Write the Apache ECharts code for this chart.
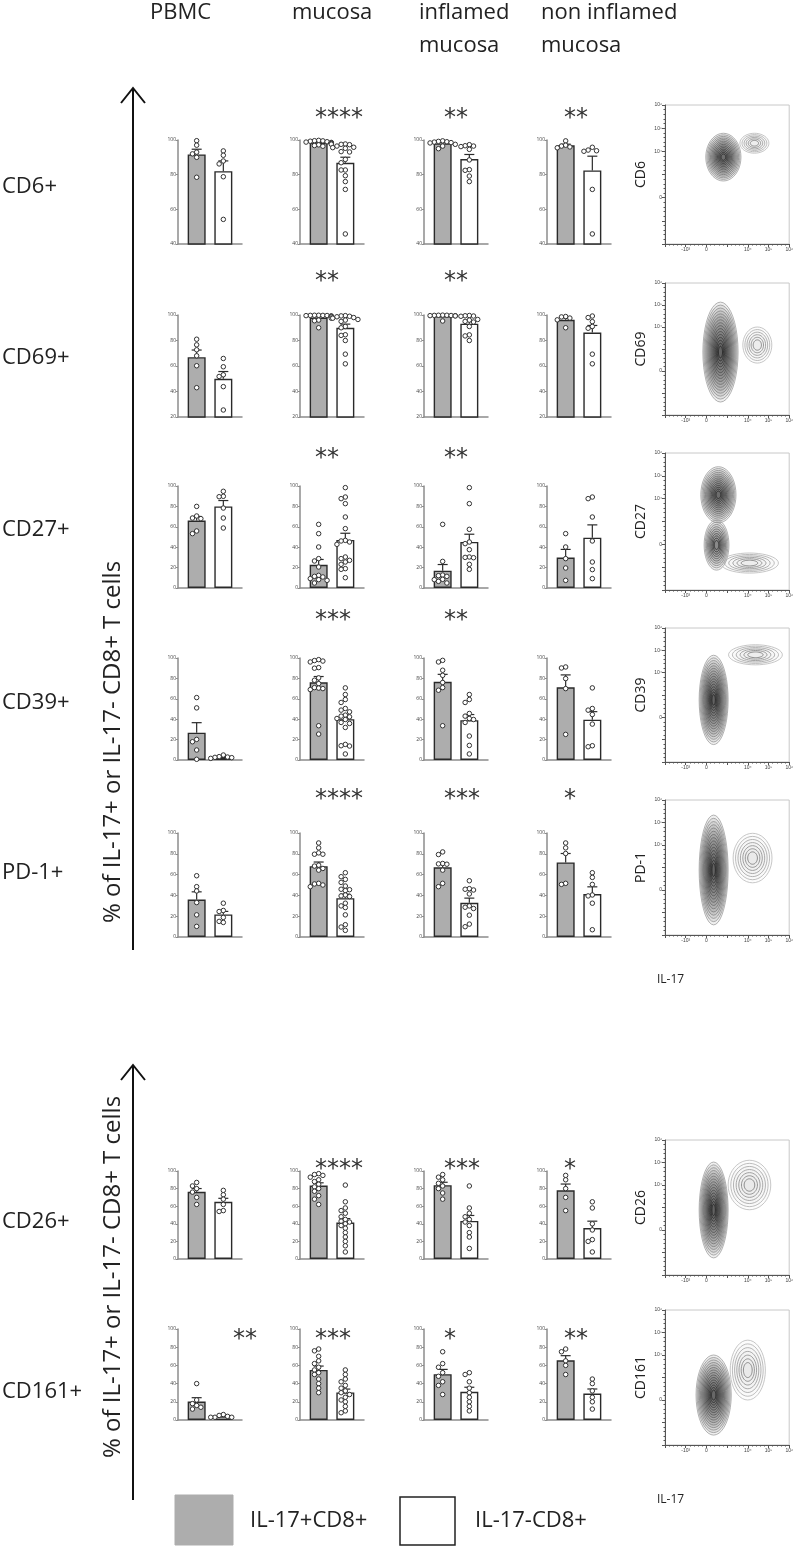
<!DOCTYPE html>
<html>
<head>
<meta charset="utf-8">
<script src="https://cdn.jsdelivr.net/npm/echarts@6/dist/echarts.min.js"></script>
<style>
  html, body { margin: 0; padding: 0; background: #fff; }
  #main { width: 796px; height: 1563px; }
</style>
</head>
<body>
<div id="main"></div>
<script>
// columns and markers
var columns = ['PBMC', 'mucosa', 'inflamed mucosa', 'non inflamed mucosa'];
var markers = ['CD6+', 'CD69+', 'CD27+', 'CD39+', 'PD-1+', 'CD26+', 'CD161+'];
var flowNames = ['CD6', 'CD69', 'CD27', 'CD39', 'PD-1', 'CD26', 'CD161'];
var yMins = [40, 20, 0, 0, 0, 0, 0];
var legendNames = ['IL-17+CD8+', 'IL-17-CD8+'];
var axisTitle = '% of IL-17+ or IL-17- CD8+ T cells';

// significance per marker, per column
var stars = [
  ['', '****', '**', '**'],
  ['', '**', '**', ''],
  ['', '**', '**', ''],
  ['', '***', '**', ''],
  ['', '****', '***', '*'],
  ['', '****', '***', '*'],
  ['**', '***', '*', '**']
];

// single donors, IL-17+ (grey) and IL-17- (white); columns: PBMC, mucosa, inflamed, non inflamed
var cd6Pos = [
  [99.6, 97, 93, 92, 90, 78.5],
  [99.8, 99.6, 99.5, 99.3, 99, 98.8, 98.6, 98.4, 98.2, 98, 97.6, 97.2, 96.8, 96.4],
  [99.5, 99.2, 99, 98.8, 98.5, 98.3, 97.5, 96.5, 95],
  [99.5, 97, 96.5, 96, 95.5]
];
var cd6Neg = [
  [93.7, 91.2, 87.9, 86.2, 78.8, 54.2],
  [97.7, 97.5, 97.3, 96.5, 95.8, 95.6, 95.2, 93.3, 93.1, 88.8, 86.9, 82.7, 82.7, 79.4, 76, 71.5, 45.8],
  [97.3, 96.7, 96.5, 96.2, 94.6, 88.5, 82.9, 82.5, 79.2, 76],
  [95.8, 94.2, 93.8, 93.5, 71.5, 45.8]
];
var cd69Pos = [
  [81, 76.6, 72.7, 68, 60.2, 43],
  [99.8, 99.8, 99.7, 99.7, 99.6, 99.5, 99.3, 99, 98.5, 97.5, 96, 95.5, 90],
  [99.9, 99.8, 99.8, 99.7, 99.6, 99.5, 99.4, 99.3, 95.3],
  [98.8, 98.5, 97.6, 96.2, 90]
];
var cd69Neg = [
  [65.9, 59.4, 53.1, 51.8, 43.8, 25.5],
  [99.5, 99.3, 99, 98.6, 98, 97.5, 96.5, 96, 95, 91, 90, 84.5, 84, 80, 69.3, 61.7],
  [99.6, 99.4, 99.2, 99, 96.5, 96, 95, 94.5, 91, 84.4, 83.6, 80],
  [99.2, 98, 94.8, 91, 89.6, 69.3, 61.7]
];
var cd27Pos = [
  [80, 70.6, 68.6, 68, 55.9, 53.3],
  [62.4, 53.3, 40.2, 28.8, 26.5, 20.6, 12.4, 11.4, 10.8, 9.2, 8.2, 7.5, 4.9],
  [62.4, 26.1, 12.7, 12.1, 11.4, 8.5, 8.2, 6.5, 4.9],
  [53.3, 40.2, 28.8, 19.6, 7.5]
];
var cd27Neg = [
  [94.8, 89.9, 89.5, 78.4, 68.6, 58.8],
  [98.4, 89.2, 87.6, 82.7, 69.6, 58.2, 46.7, 46.1, 45.1, 42.8, 30.4, 28.8, 27.1, 25.5, 23.2, 19, 18.3, 10.1],
  [98.4, 82.7, 57.5, 45.1, 43.5, 37.6, 30.4, 30, 29.7, 23.2, 18.3],
  [89.2, 87.6, 69.6, 46.1, 25.5, 18, 9.2]
];
var cd39Pos = [
  [61.2, 51.1, 20.2, 17.9, 9.8, 0.7],
  [98.4, 97.5, 97, 96.1, 90.6, 90, 80.5, 78.2, 74.9, 71, 70.5, 70, 69, 33.6, 25.4],
  [97.7, 96.1, 88, 83, 76, 71, 68.4, 33.6],
  [91.2, 90.2, 79.8, 70, 25.1]
];
var cd39Neg = [
  [4.9, 3.3, 2.9, 2.6, 2.3, 1.6],
  [70.7, 64.2, 59.3, 56.4, 50.5, 48.9, 47.2, 44, 43, 42.3, 40.7, 39.7, 36.8, 35.8, 31.9, 15.3, 14, 13.7, 5.9],
  [64.2, 59.3, 56.4, 45.6, 43, 40.7, 39.7, 36.8, 23.5, 14.3, 5.9],
  [70.7, 50.5, 48.9, 44.6, 35.2, 14, 13]
];
var pd1Pos = [
  [58.9, 48.4, 44.3, 33.1, 21.3, 10.2],
  [90.4, 85.7, 80.9, 79.6, 79.6, 69.1, 68.2, 65.9, 64.3, 51.6, 51, 50, 48.4],
  [81.8, 79.3, 70.7, 70.3, 70, 64.3, 51.6, 48.4],
  [90.4, 85.7, 80.3, 51.6, 50.6]
];
var pd1Neg = [
  [32.5, 25.5, 24.5, 18.8, 15, 14],
  [61.8, 58, 55.4, 52.5, 49, 45.9, 45.5, 44.6, 40.4, 39.5, 38.9, 32.5, 29.9, 28.3, 21.3, 11.8, 9.6, 6.4],
  [54.1, 46.5, 45.9, 45.2, 41.4, 29.9, 28.6, 27.4, 21, 12.4, 9.9],
  [61.8, 57.3, 50.6, 40.4, 39.5, 32.5, 7]
];
var cd26Pos = [
  [87, 83, 80, 76, 70, 62],
  [97, 96, 95, 93, 90, 88, 85, 82, 80, 77, 72, 68, 62],
  [96, 93, 90, 86, 83, 80, 75, 68],
  [95, 90, 80, 70, 55]
];
var cd26Neg = [
  [78, 73, 68, 62, 55, 54],
  [84, 65, 58, 55, 52, 48, 45, 43, 42, 40, 38, 35, 30, 25, 20, 15, 8],
  [83, 58, 52, 48, 45, 42, 38, 30, 25, 12],
  [65, 58, 40, 33, 22, 20, 8]
];
var cd161Pos = [
  [40, 22, 18, 16, 14, 12],
  [78, 76, 70, 65, 62, 58, 55, 52, 50, 45, 40, 35, 30],
  [75, 62, 58, 52, 48, 42, 38, 28],
  [78, 75, 65, 60, 50]
];
var cd161Neg = [
  [6, 5, 4, 3, 3, 3],
  [55, 50, 45, 42, 38, 35, 32, 30, 28, 25, 22, 20, 15, 10, 8],
  [52, 50, 42, 35, 30, 25, 20, 15, 10],
  [45, 40, 32, 25, 20, 12]
];

// flow plots: contour blobs [x, y, rx, ry, levels] in plot units (0-6)
var flowBlobs = [
  [[2.82, 3.75, 0.85, 1.03, 14], [4.32, 4.35, 0.7, 0.43, 6]],
  [[2.68, 2.86, 0.85, 2.27, 16], [4.46, 3.18, 0.7, 0.82, 6]],
  [[2.58, 4.17, 0.85, 1.23, 14], [2.49, 1.97, 0.6, 1.1, 10], [4.08, 1.18, 1.4, 0.44, 6]],
  [[2.35, 2.78, 0.7, 2.0, 16], [4.37, 4.8, 1.3, 0.45, 6]],
  [[2.35, 2.89, 0.7, 2.44, 16], [4.23, 3.42, 0.94, 1.1, 7]],
  [[2.35, 2.89, 0.7, 2.13, 16], [4.08, 4.0, 1.03, 1.1, 7]],
  [[2.35, 2.22, 0.85, 1.78, 15], [4.0, 3.33, 0.85, 1.33, 7]]
];
var flowXTicks = { 1: '-10³', 2: '0', 4: '10⁴', 5: '10⁵', 6: '10⁶' };
var flowYTicks = { 2: '0', 4: '10⁴', 5: '10⁵', 6: '10⁶' };

// layout
var colX = [178, 300, 424, 547];
var panelW = 64;
var rowTop = [140, 315, 486, 658, 833, 1171, 1329];
var rowH = [104, 102, 102, 102, 104, 88, 91];
var starY = [112, 275, 452, 614, 793, 1163, 1333];
var starX = [233, 315, 444, 564];
var labelY = [187, 358, 530, 703, 873, 1222, 1392];
var headerX = [150, 292, 419, 541];
var flowTop = [105, 283, 453, 628, 800, 1140, 1310];
var flowH = [139, 132, 137, 134, 135, 135, 135];
var FONT = '"Open Sans", "Noto Sans", sans-serif';
var GREY = '#adadad';

var posData = [cd6Pos, cd69Pos, cd27Pos, cd39Pos, pd1Pos, cd26Pos, cd161Pos];
var negData = [cd6Neg, cd69Neg, cd27Neg, cd39Neg, pd1Neg, cd26Neg, cd161Neg];

function stat(vals) {
  var n = vals.length, m = 0, s = 0;
  vals.forEach(function (v) { m += v; });
  m /= n;
  vals.forEach(function (v) { s += (v - m) * (v - m); });
  return { mean: m, sem: Math.sqrt(s / (n - 1)) / Math.sqrt(n) };
}

// simple beeswarm so that circles do not pile up
function swarm(vals, yMin, h, xc) {
  var ky = h / (100 - yMin), kx = panelW / 2.4, D = 4.2;
  var idx = vals.map(function (v, i) { return i; })
    .sort(function (a, b) { return vals[b] - vals[a]; });
  var placed = [], out = [];
  idx.forEach(function (i) {
    var py = vals[i] * ky, dx = 0;
    for (var k = 0; k < 7; k++) {
      dx = k === 0 ? 0 : (k % 2 ? -1 : 1) * Math.ceil(k / 2) * D;
      var hit = placed.some(function (p) {
        return (p[0] - dx) * (p[0] - dx) + (p[1] - py) * (p[1] - py) < D * D;
      });
      if (!hit) break;
    }
    placed.push([dx, py]);
    out.push([xc + dx / kx, vals[i]]);
  });
  return out;
}

function errorItem(params, api) {
  var b = api.coord([api.value(0), api.value(1)]);
  var t = api.coord([api.value(0), api.value(2)]);
  var st = { stroke: '#2a2a2a', lineWidth: 1.2 };
  return {
    type: 'group',
    children: [
      { type: 'line', shape: { x1: b[0], y1: b[1], x2: t[0], y2: t[1] }, style: st },
      { type: 'line', shape: { x1: t[0] - 5, y1: t[1], x2: t[0] + 5, y2: t[1] }, style: st }
    ]
  };
}

function contourItem(params, api) {
  var c = api.coord([api.value(0), api.value(1)]);
  var s = api.size([api.value(2), api.value(3)]);
  var n = api.value(4);
  var main = n >= 9;
  var kids = [];
  for (var k = 0; k < n; k++) {
    var f = 1 - k / (n + 1);
    var pts = [];
    for (var a = 0; a < 40; a++) {
      var t = a / 40 * Math.PI * 2;
      pts.push([c[0] + s[0] * f * Math.cos(t), c[1] + s[1] * f * Math.sin(t)]);
    }
    var g = main ? Math.round(160 - 130 * k / (n - 1)) : Math.round(185 - 70 * k / (n - 1));
    kids.push({
      type: 'polygon', shape: { points: pts },
      style: {
        fill: main ? 'rgba(40,40,40,0.075)' : 'rgba(80,80,80,0.015)',
        stroke: 'rgb(' + g + ',' + g + ',' + g + ')', lineWidth: 0.8
      }
    });
  }
  return { type: 'group', children: kids };
}

var grids = [], xAxes = [], yAxes = [], series = [], graphics = [];

markers.forEach(function (m, r) {
  for (var c = 0; c < 4; c++) {
    var gi = grids.length;
    grids.push({ left: colX[c], top: rowTop[r], width: panelW, height: rowH[r] });
    xAxes.push({
      gridIndex: gi, type: 'value', min: -0.7, max: 1.7,
      axisLine: { onZero: false, lineStyle: { color: '#8c8c8c', width: 1.5 } },
      axisTick: { show: false }, axisLabel: { show: false }, splitLine: { show: false }
    });
    yAxes.push({
      gridIndex: gi, type: 'value', min: yMins[r], max: 100, interval: 20,
      axisLine: { show: true, onZero: false, lineStyle: { color: '#8c8c8c', width: 1.5 } },
      axisTick: { show: true, length: 2, lineStyle: { color: '#8c8c8c', width: 1 } },
      axisLabel: { fontSize: 5, margin: 2, color: '#444', fontFamily: FONT },
      splitLine: { show: false }
    });
    var groups = [posData[r][c], negData[r][c]];
    var stats = groups.map(stat);
    series.push({
      type: 'bar', xAxisIndex: gi, yAxisIndex: gi, barWidth: 18, silent: true,
      data: stats.map(function (s, k) {
        return { value: [k, s.mean], itemStyle: { color: k ? '#fff' : GREY } };
      }),
      itemStyle: { borderColor: '#2a2a2a', borderWidth: 1.4 }, z: 2
    });
    series.push({
      type: 'custom', xAxisIndex: gi, yAxisIndex: gi, silent: true, z: 3,
      renderItem: errorItem,
      data: stats.map(function (s, k) { return [k, s.mean, s.mean + s.sem]; })
    });
    var pts = swarm(groups[0], yMins[r], rowH[r], 0).concat(swarm(groups[1], yMins[r], rowH[r], 1));
    series.push({
      type: 'scatter', xAxisIndex: gi, yAxisIndex: gi, silent: true, z: 4,
      symbolSize: 4.5, data: pts,
      itemStyle: { color: '#fff', borderColor: '#333', borderWidth: 1, opacity: 1 }
    });
    if (stars[r][c]) {
      graphics.push({
        type: 'text', x: starX[c], y: starY[r] + 7,
        style: { text: stars[r][c], font: '24px "DejaVu Sans", sans-serif', fill: '#333',
          textAlign: 'left', textVerticalAlign: 'middle', align: 'left', verticalAlign: 'middle' }
      });
    }
  }

  // flow cytometry panel
  var fi = grids.length;
  grids.push({ left: 665, top: flowTop[r], width: 128, height: flowH[r], show: true,
    borderColor: '#c8c8c8', borderWidth: 1 });
  xAxes.push({
    gridIndex: fi, type: 'value', min: 0, max: 6, interval: 1,
    axisLine: { onZero: false, lineStyle: { color: '#555', width: 1 } },
    axisTick: { length: 3, lineStyle: { color: '#555' } },
    minorTick: { show: true, splitNumber: 5, length: 1.5, lineStyle: { color: '#555' } },
    axisLabel: { fontSize: 5, margin: 3, color: '#444',
      formatter: function (v) { return flowXTicks[v] || ''; } },
    splitLine: { show: false }
  });
  yAxes.push({
    gridIndex: fi, type: 'value', min: 0, max: 6, interval: 1,
    name: flowNames[r], nameLocation: 'middle', nameGap: 17, nameRotate: 90,
    nameTextStyle: { fontSize: 14, color: '#222', fontFamily: FONT },
    axisLine: { show: true, onZero: false, lineStyle: { color: '#555', width: 1 } },
    axisTick: { show: true, length: 3, lineStyle: { color: '#555' } },
    minorTick: { show: true, splitNumber: 5, length: 1.5, lineStyle: { color: '#555' } },
    axisLabel: { fontSize: 5, margin: 3, color: '#444',
      formatter: function (v) { return flowYTicks[v] || ''; } },
    splitLine: { show: false }
  });
  series.push({
    type: 'custom', xAxisIndex: fi, yAxisIndex: fi, silent: true,
    renderItem: contourItem, data: flowBlobs[r]
  });

  graphics.push({
    type: 'text', x: 2, y: labelY[r],
    style: { text: m, font: '22px ' + FONT, fill: '#222',
      textAlign: 'left', textVerticalAlign: 'middle', align: 'left', verticalAlign: 'middle' }
  });
});

// column headers
columns.forEach(function (name, c) {
  var lines = name.replace(/ mucosa$/, '\nmucosa').split('\n');
  lines.forEach(function (ln, i) {
    graphics.push({
      type: 'text', x: headerX[c], y: 13 + i * 33,
      style: { text: ln, font: '22px ' + FONT, fill: '#222',
        textAlign: 'left', textVerticalAlign: 'middle', align: 'left', verticalAlign: 'middle' }
    });
  });
});

// arrows with rotated titles
[[950, 88, 742], [1500, 1065, 1277]].forEach(function (a) {
  graphics.push({ type: 'line', shape: { x1: 133, y1: a[0], x2: 133, y2: a[1] + 1 },
    style: { stroke: '#111', lineWidth: 2 } });
  graphics.push({ type: 'polyline', shape: { points: [[121, a[1] + 15], [133, a[1]], [145, a[1] + 15]] },
    style: { stroke: '#111', lineWidth: 2, fill: 'none' } });
  graphics.push({
    type: 'text', x: 113, y: a[2], rotation: Math.PI / 2,
    style: { text: axisTitle, font: '24px ' + FONT, fill: '#222',
      textAlign: 'center', textVerticalAlign: 'middle', align: 'center', verticalAlign: 'middle' }
  });
});

// IL-17 axis titles of flow plots
[980, 1500].forEach(function (y) {
  graphics.push({
    type: 'text', x: 657, y: y,
    style: { text: 'IL-17', font: '12px ' + FONT, fill: '#222',
      textAlign: 'left', textVerticalAlign: 'middle', align: 'left', verticalAlign: 'middle' }
  });
});

// legend
graphics.push({ type: 'rect', shape: { x: 175, y: 1495, width: 58, height: 50 },
  style: { fill: GREY, stroke: GREY, lineWidth: 1 } });
graphics.push({ type: 'rect', shape: { x: 400, y: 1497, width: 55, height: 48 },
  style: { fill: '#fff', stroke: '#222', lineWidth: 1.5 } });
[[250, legendNames[0]], [475, legendNames[1]]].forEach(function (l) {
  graphics.push({
    type: 'text', x: l[0], y: 1521,
    style: { text: l[1], font: '22px ' + FONT, fill: '#222',
      textAlign: 'left', textVerticalAlign: 'middle', align: 'left', verticalAlign: 'middle' }
  });
});

var myChart = echarts.init(document.getElementById('main'));
var option = {
  animation: false,
  backgroundColor: '#fff',
  grid: grids,
  xAxis: xAxes,
  yAxis: yAxes,
  series: series,
  graphic: { elements: graphics }
};
myChart.setOption(option);
</script>
</body>
</html>
